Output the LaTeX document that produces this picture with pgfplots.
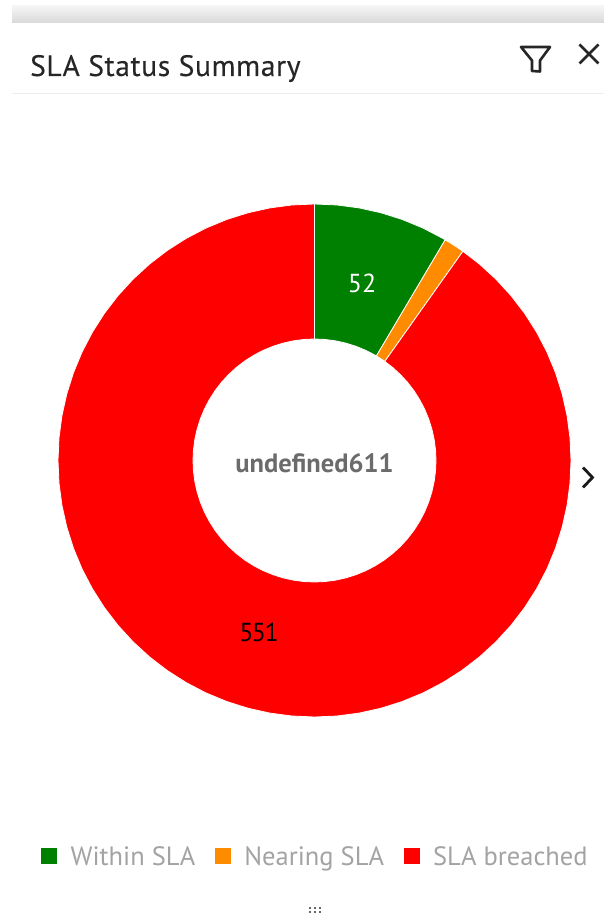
\documentclass[border=0pt]{standalone}
\usepackage{fontspec}
\setmainfont{PT Sans}
\usepackage{pgfplots}
\pgfplotsset{compat=1.18}
\definecolor{sgreen}{HTML}{008000}
\definecolor{sorange}{HTML}{FF8C00}
\definecolor{sred}{HTML}{FF0000}
\definecolor{legtxt}{HTML}{A3A3A3}
\definecolor{ctxt}{HTML}{6B6B6B}
\begin{document}
\begin{tikzpicture}
\begin{axis}[
  scale only axis, width=604pt, height=919pt,
  xmin=-314.5, xmax=289.5, ymin=-458.5, ymax=460.5,
  hide axis, clip=false,
  legend style={at={(axis cs:-273.5,-396)}, anchor=west, draw=none, fill=none,
    legend columns=3, font=\fontsize{26.5}{30}\selectfont, text=legtxt,
    inner xsep=0pt, inner ysep=0pt,
    /tikz/every odd column/.append style={column sep=13.5pt},
    /tikz/every even column/.append style={column sep=19.5pt},
    nodes={inner xsep=0pt}},
  legend cell align=left,
  legend image code/.code={\fill[#1,draw=none] (0pt,-8pt) rectangle (16pt,8pt);},
]
% total 611: 52 within, 8 nearing, 551 breached
\addplot[data cs=polar, fill=sgreen, draw=white, line width=0.8pt] coordinates {
(90,256.5)(85,256.5)(80,256.5)(75,256.5)(70,256.5)(65,256.5)(60,256.5)(59.36,256.5)
(59.36,121.5)(60,121.5)(65,121.5)(70,121.5)(75,121.5)(80,121.5)(85,121.5)(90,121.5)(90,256.5)};
\addlegendentry{Within SLA}
\addplot[data cs=polar, fill=sorange, draw=white, line width=0.8pt] coordinates {
(59.36,256.5)(58,256.5)(56,256.5)(54.65,256.5)
(54.65,121.5)(56,121.5)(58,121.5)(59.36,121.5)(59.36,256.5)};
\addlegendentry{Nearing SLA}
\addplot[data cs=polar, fill=sred, draw=white, line width=0.8pt] coordinates {
(54.65,256.5)(50,256.5)(45,256.5)(40,256.5)(35,256.5)(30,256.5)(25,256.5)(20,256.5)(15,256.5)(10,256.5)(5,256.5)(0,256.5)
(-5,256.5)(-10,256.5)(-15,256.5)(-20,256.5)(-25,256.5)(-30,256.5)(-35,256.5)(-40,256.5)(-45,256.5)(-50,256.5)(-55,256.5)(-60,256.5)
(-65,256.5)(-70,256.5)(-75,256.5)(-80,256.5)(-85,256.5)(-90,256.5)(-95,256.5)(-100,256.5)(-105,256.5)(-110,256.5)(-115,256.5)(-120,256.5)
(-125,256.5)(-130,256.5)(-135,256.5)(-140,256.5)(-145,256.5)(-150,256.5)(-155,256.5)(-160,256.5)(-165,256.5)(-170,256.5)(-175,256.5)(-180,256.5)
(-185,256.5)(-190,256.5)(-195,256.5)(-200,256.5)(-205,256.5)(-210,256.5)(-215,256.5)(-220,256.5)(-225,256.5)(-230,256.5)(-235,256.5)(-240,256.5)
(-245,256.5)(-250,256.5)(-255,256.5)(-260,256.5)(-265,256.5)(-270,256.5)
(-270,121.5)(-265,121.5)(-260,121.5)(-255,121.5)(-250,121.5)(-245,121.5)
(-240,121.5)(-235,121.5)(-230,121.5)(-225,121.5)(-220,121.5)(-215,121.5)(-210,121.5)(-205,121.5)(-200,121.5)(-195,121.5)(-190,121.5)(-185,121.5)
(-180,121.5)(-175,121.5)(-170,121.5)(-165,121.5)(-160,121.5)(-155,121.5)(-150,121.5)(-145,121.5)(-140,121.5)(-135,121.5)(-130,121.5)(-125,121.5)
(-120,121.5)(-115,121.5)(-110,121.5)(-105,121.5)(-100,121.5)(-95,121.5)(-90,121.5)(-85,121.5)(-80,121.5)(-75,121.5)(-70,121.5)(-65,121.5)
(-60,121.5)(-55,121.5)(-50,121.5)(-45,121.5)(-40,121.5)(-35,121.5)(-30,121.5)(-25,121.5)(-20,121.5)(-15,121.5)(-10,121.5)(-5,121.5)
(0,121.5)(5,121.5)(10,121.5)(15,121.5)(20,121.5)(25,121.5)(30,121.5)(35,121.5)(40,121.5)(45,121.5)(50,121.5)(54.65,121.5)(54.65,256.5)};
\addlegendentry{SLA breached}

% page chrome
\path[top color=black!4, bottom color=black!15, draw=none] (axis cs:-302.5,454.5) rectangle (axis cs:289.5,437.5);
\draw[black!7, line width=1pt] (axis cs:-302.5,366.5) -- (axis cs:289.5,366.5);
\node[anchor=base west, inner sep=0pt, text=black!85, font=\fontsize{29.5}{32}\selectfont] at (axis cs:-284.5,384.5) {\addfontfeatures{LetterSpace=2.2,FakeBold=0.25}SLA Status Summary};
% funnel icon
\draw[black!85, line width=2.6pt, line join=round]
  (axis cs:206.5,413.5) -- (axis cs:235.5,413.5) -- (axis cs:225.5,400) -- (axis cs:225.5,389) -- (axis cs:217.5,389.5) -- (axis cs:217.5,400) -- cycle;
% close icon
\draw[black!85, line width=2.6pt] (axis cs:265,416) -- (axis cs:284,397) (axis cs:284,416) -- (axis cs:265,397);
% chevron
\draw[black!90, line width=2.8pt] (axis cs:268.5,-7) -- (axis cs:278,-17) -- (axis cs:268.5,-27);
% labels
\node[text=white, font=\fontsize{26}{30}\selectfont, inner sep=0pt] at (axis cs:47.5,177.5) {52};
\node[text=black, font=\fontsize{26}{30}\selectfont, inner sep=0pt] at (axis cs:-55.5,-171.5) {\addfontfeatures{LetterSpace=-6}551};
\node[text=ctxt, font=\bfseries\fontsize{26.5}{30}\selectfont, inner sep=0pt] at (axis cs:0,-2.5) {undefined611};
% drag dots
\foreach \xx in {-5,0,5} \foreach \yy in {-447.5,-452} {
  \edef\tmp{\noexpand\fill[black!60] (axis cs:\xx-1,\yy-1) rectangle (axis cs:\xx+1,\yy+1);}\tmp
}
\end{axis}
\pgfresetboundingbox
\useasboundingbox (0,0) rectangle (604pt,919pt);
\end{tikzpicture}
\end{document}
